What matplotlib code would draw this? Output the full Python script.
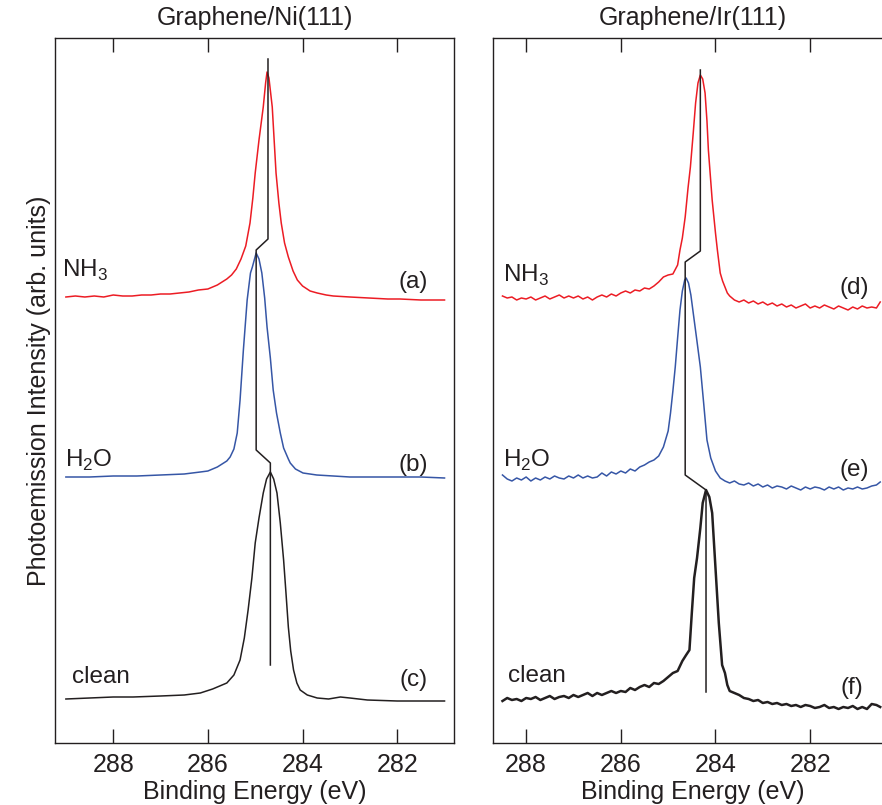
import matplotlib
matplotlib.use("Agg")
import matplotlib.pyplot as plt

plt.rcParams['font.family'] = ['Liberation Sans', 'DejaVu Sans']
plt.rcParams['mathtext.fontset'] = 'custom'
plt.rcParams['mathtext.rm'] = 'Liberation Sans'

# ---------------- data (binding energy in eV, intensity in arb. units) ----------------
titles = ["Graphene/Ni(111)", "Graphene/Ir(111)"]
xticks = [288, 286, 284, 282]

# Graphene/Ni(111)
ni_nh3_E = [289.0, 288.8, 288.6, 288.4, 288.2, 288.0, 287.8, 287.6, 287.4, 287.2, 287.0, 286.8,
            286.6, 286.4, 286.2, 286.0, 285.8, 285.6, 285.5, 285.4, 285.3, 285.2, 285.11, 285.05,
            285.0, 284.92, 284.83, 284.78, 284.75, 284.71, 284.64, 284.56, 284.5, 284.45, 284.38,
            284.30, 284.2, 284.11, 284.0, 283.84, 283.69, 283.5, 283.35, 283.0, 282.6, 282.2,
            281.94, 281.5, 281.0]
ni_nh3_I = [446, 447, 446, 447, 446, 448, 447, 447, 448, 448, 449, 449,
            450, 451, 453, 454, 458, 464, 468, 474, 484, 497, 520, 545,
            570, 603, 636, 660, 671, 665, 636, 570, 540, 520, 500,
            486, 472, 463, 457, 452, 450, 448, 447, 446, 445, 444,
            444, 443, 443]

ni_h2o_E = [289.0, 288.5, 288.0, 287.5, 287.0, 286.5, 286.16, 286.0, 285.8, 285.6, 285.53, 285.45,
            285.38, 285.32, 285.25, 285.17, 285.1, 285.06, 284.98, 284.92, 284.86, 284.8, 284.75,
            284.68, 284.62, 284.55, 284.47, 284.4, 284.3, 284.26, 284.15, 283.99, 283.7, 283.35,
            283.0, 282.5, 282.0, 281.5, 281.0]
ni_h2o_I = [266, 266, 267, 267, 268, 269, 271, 272, 276, 282, 286, 294,
            310, 343, 393, 443, 470, 476, 490, 484, 470, 445, 416,
            385, 353, 330, 310, 295, 284, 280, 274, 270, 268, 267,
            266, 266, 266, 266, 265]

ni_clean_E = [289.0, 288.5, 288.0, 287.58, 287.0, 286.5, 286.16, 285.9, 285.6, 285.45, 285.32,
              285.23, 285.15, 285.07, 285.0, 284.92, 284.83, 284.76, 284.68, 284.61, 284.54,
              284.47, 284.40, 284.35, 284.30, 284.25, 284.19, 284.12, 284.05, 283.9, 283.69,
              283.45, 283.2, 283.0, 282.63, 282.0, 281.0]
ni_clean_I = [44, 45, 46, 46, 47, 48, 50, 54, 60, 68, 83,
              105, 133, 165, 200, 225, 250, 264, 271, 264, 250,
              220, 183, 150, 116, 92, 73, 60, 53, 48, 45,
              44, 46, 45, 43, 42, 42]

ni_guide_E = [284.73, 284.73, 284.98, 284.98, 284.68, 284.68]
ni_guide_I = [684, 504, 493, 293, 280, 78]

# Graphene/Ir(111)
ir_nh3_E = [288.5, 288.4, 288.3, 288.2, 288.1, 288.0, 287.9, 287.8, 287.7, 287.6, 287.5, 287.4,
            287.3, 287.2, 287.1, 287.0, 286.9, 286.8, 286.7, 286.6, 286.5, 286.4, 286.3, 286.2,
            286.1, 286.0, 285.9, 285.8, 285.7, 285.6, 285.5, 285.4, 285.3, 285.2, 285.1, 285.0,
            284.9, 284.8, 284.75, 284.7, 284.64, 284.58, 284.53, 284.47, 284.42, 284.37, 284.32,
            284.27, 284.22, 284.18, 284.15, 284.07, 284.0, 283.96, 283.9, 283.85, 283.8, 283.75,
            283.7, 283.6, 283.5, 283.4, 283.3, 283.2, 283.1, 283.0, 282.9, 282.8, 282.7, 282.6,
            282.5, 282.4, 282.3, 282.2, 282.1, 282.0, 281.9, 281.8, 281.7, 281.6, 281.5, 281.4,
            281.3, 281.2, 281.1, 281.0, 280.9, 280.8, 280.7, 280.6, 280.52]
ir_nh3_I = [447, 445, 446, 443, 445, 444, 446, 443, 445, 447, 444, 446,
            448, 445, 447, 445, 447, 444, 446, 443, 446, 448, 446, 449,
            447, 450, 452, 450, 453, 452, 455, 454, 457, 461, 466, 468,
            469, 478, 493, 505, 526, 555, 576, 610, 640, 660, 668,
            664, 650, 622, 593, 543, 510, 493, 470, 462, 456, 450,
            447, 443, 441, 443, 440, 442, 439, 441, 438, 440, 437, 439,
            436, 438, 435, 437, 439, 435, 437, 435, 438, 436, 434, 437,
            435, 433, 436, 434, 437, 435, 436, 435, 441]

ir_h2o_E = [288.5, 288.4, 288.3, 288.2, 288.1, 288.0, 287.9, 287.8, 287.7, 287.6, 287.5, 287.4,
            287.3, 287.2, 287.1, 287.0, 286.9, 286.8, 286.7, 286.6, 286.5, 286.4, 286.3, 286.2,
            286.1, 286.0, 285.9, 285.8, 285.7, 285.6, 285.5, 285.4, 285.3, 285.2, 285.1, 285.0,
            284.95, 284.9, 284.85, 284.8, 284.75, 284.7, 284.65, 284.62, 284.57, 284.52, 284.47,
            284.4, 284.32, 284.25, 284.18, 284.1, 284.0, 283.9, 283.8, 283.7, 283.6, 283.5, 283.4,
            283.3, 283.2, 283.1, 283.0, 282.9, 282.8, 282.7, 282.6, 282.5, 282.4, 282.3, 282.2,
            282.1, 282.0, 281.9, 281.8, 281.7, 281.6, 281.5, 281.4, 281.3, 281.2, 281.1, 281.0,
            280.9, 280.8, 280.7, 280.6, 280.52]
ir_h2o_I = [268, 264, 262, 265, 263, 266, 262, 265, 263, 266, 264, 267,
            265, 264, 267, 265, 268, 265, 267, 265, 266, 270, 267, 271,
            269, 272, 270, 274, 272, 276, 278, 281, 283, 287, 296, 312,
            330, 352, 376, 405, 433, 452, 463, 465, 460, 448, 430,
            405, 376, 340, 303, 285, 272, 265, 262, 260, 262, 259, 258,
            260, 257, 259, 256, 258, 255, 257, 256, 254, 257, 255, 253,
            256, 254, 256, 255, 253, 256, 254, 256, 253, 255, 254, 256,
            254, 255, 257, 258, 261]

ir_clean_E = [288.5, 288.4, 288.3, 288.2, 288.1, 288.0, 287.9, 287.8, 287.7, 287.6, 287.5, 287.4,
              287.3, 287.2, 287.1, 287.0, 286.9, 286.8, 286.7, 286.6, 286.5, 286.4, 286.3, 286.2,
              286.1, 286.0, 285.9, 285.8, 285.7, 285.6, 285.5, 285.4, 285.3, 285.2, 285.1, 285.0,
              284.9, 284.8, 284.7, 284.62, 284.55, 284.5, 284.45, 284.39, 284.32, 284.27, 284.2,
              284.13, 284.07, 284.0, 283.93, 283.86, 283.8, 283.75, 283.7, 283.6, 283.5, 283.4,
              283.3, 283.2, 283.1, 283.0, 282.9, 282.8, 282.7, 282.6, 282.5, 282.4, 282.3, 282.2,
              282.1, 282.0, 281.9, 281.8, 281.7, 281.6, 281.5, 281.4, 281.3, 281.2, 281.1, 281.0,
              280.9, 280.8, 280.7, 280.6, 280.52]
ir_clean_I = [42, 45, 43, 44, 42, 45, 44, 46, 43, 45, 47, 44,
              46, 47, 45, 48, 46, 48, 50, 47, 50, 48, 50, 52,
              50, 52, 51, 55, 53, 56, 58, 56, 60, 59, 62, 66,
              70, 72, 82, 88, 93, 130, 165, 185, 215, 240, 253,
              246, 230, 175, 120, 78, 70, 58, 52, 50, 48, 45,
              44, 42, 43, 40, 41, 39, 40, 38, 39, 37, 38, 36,
              38, 37, 35, 36, 38, 35, 36, 34, 36, 35, 37, 34,
              36, 34, 39, 38, 36]

ir_guide_E = [284.32, 284.32, 284.64, 284.64, 284.20, 284.20]
ir_guide_I = [673, 492, 481, 268, 253, 51]

RED = '#ec1c24'
BLUE = '#3656a6'
BLACK = '#231f20'

# ---------------- figure ----------------
W, H = 882, 805
fig = plt.figure(figsize=(W / 100, H / 100), dpi=100)

ax_bottom = (805 - 743) / H
ax_height = 705 / H
ax1 = fig.add_axes([55 / W, ax_bottom, 399 / W, ax_height])
ax2 = fig.add_axes([493 / W, ax_bottom, 400 / W, ax_height])

ax1.plot(ni_nh3_E, ni_nh3_I, color=RED, lw=1.1)
ax1.plot(ni_h2o_E, ni_h2o_I, color=BLUE, lw=1.1)
ax1.plot(ni_clean_E, ni_clean_I, color=BLACK, lw=1.1)
ax1.plot(ni_guide_E, ni_guide_I, color=BLACK, lw=1.1)

ax2.plot(ir_nh3_E, ir_nh3_I, color=RED, lw=1.1)
ax2.plot(ir_h2o_E, ir_h2o_I, color=BLUE, lw=1.1)
ax2.plot(ir_clean_E, ir_clean_I, color=BLACK, lw=1.8)
ax2.plot(ir_guide_E, ir_guide_I, color=BLACK, lw=1.1)

ax1.set_xlim(289.23, 280.80)
ax2.set_xlim(288.70, 280.25)

FS = 18
for ax, t in zip((ax1, ax2), titles):
    ax.set_ylim(0, 705)
    ax.set_xticks(xticks)
    ax.set_xticklabels([str(v) for v in xticks])
    ax.set_yticks([])
    ax.tick_params(axis='x', direction='in', length=10, width=1.0, top=True,
                   labelsize=FS, pad=7, color=BLACK, labelcolor=BLACK)
    for s in ax.spines.values():
        s.set_linewidth(1.0)
        s.set_color(BLACK)
    ax.set_title(t, fontsize=FS, pad=9, color=BLACK)
    ax.set_xlabel("Binding Energy (eV)", fontsize=FS, labelpad=2, color=BLACK)

ax1.set_ylabel("Photoemission Intensity (arb. units)", fontsize=FS, labelpad=3, color=BLACK)

LFS = 17.5
# labels, left panel
ax1.text(289.08, 466, r"NH$_{\mathregular{3}}$", fontsize=LFS, va='baseline', ha='left', color=BLACK)
ax1.text(289.01, 276, r"H$_{\mathregular{2}}$O", fontsize=LFS, va='baseline', ha='left', color=BLACK)
ax1.text(288.87, 60, "clean", fontsize=LFS, va='baseline', ha='left', color=BLACK)
ax1.text(281.66, 461, "(a)", fontsize=LFS, va='center', ha='center', color=BLACK)
ax1.text(281.66, 278, "(b)", fontsize=LFS, va='center', ha='center', color=BLACK)
ax1.text(281.66, 63, "(c)", fontsize=LFS, va='center', ha='center', color=BLACK)
# labels, right panel
ax2.text(288.49, 461, r"NH$_{\mathregular{3}}$", fontsize=LFS, va='baseline', ha='left', color=BLACK)
ax2.text(288.49, 276, r"H$_{\mathregular{2}}$O", fontsize=LFS, va='baseline', ha='left', color=BLACK)
ax2.text(288.38, 61, "clean", fontsize=LFS, va='baseline', ha='left', color=BLACK)
ax2.text(281.07, 455, "(d)", fontsize=LFS, va='center', ha='center', color=BLACK)
ax2.text(281.07, 273, "(e)", fontsize=LFS, va='center', ha='center', color=BLACK)
ax2.text(281.11, 55, "(f)", fontsize=LFS, va='center', ha='center', color=BLACK)

fig.savefig("out.png", dpi=100)
